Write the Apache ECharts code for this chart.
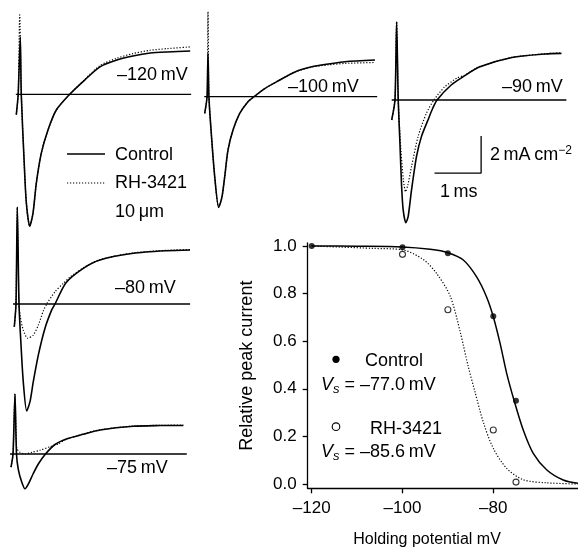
<!DOCTYPE html>
<html>
<head>
<meta charset="utf-8">
<script src="https://cdn.jsdelivr.net/npm/echarts@6/dist/echarts.min.js"></script>
<style>
html,body{margin:0;padding:0;background:#fff;}
#chart{width:578px;height:548px;}
</style>
</head>
<body>
<div id="chart"></div>
<script>
// current traces: [time ms, current mA cm-2]
var ctl120 = [[0,-1.1],[0.04,0],[0.085,3.11],[0.106,0],[0.166,-3.58],[0.213,-5.85],[0.285,-7.13],[0.355,-6.43],[0.426,-4.8],[0.532,-3.18],[0.674,-1.93],[0.851,-0.85],[1.136,0],[1.455,0.77],[1.78,1.48],[2.14,1.85],[2.48,2.07],[2.85,2.23],[3.21,2.29],[3.70,2.34]];
var rh120  = [[0,-1.1],[0.04,0],[0.072,4.29],[0.106,0],[0.166,-3.58],[0.213,-5.85],[0.285,-7.13],[0.355,-6.43],[0.426,-4.8],[0.532,-3.18],[0.674,-1.93],[0.851,-0.85],[1.136,0],[1.455,0.8],[1.78,1.55],[2.14,1.95],[2.48,2.2],[2.85,2.38],[3.21,2.47],[3.70,2.56]];

var ctl100 = [[0,-0.9],[0.05,0],[0.07,2.35],[0.09,0],[0.14,-1.98],[0.213,-4.32],[0.298,-5.98],[0.368,-5.41],[0.426,-4.32],[0.496,-2.88],[0.602,-1.8],[0.745,-0.9],[0.921,-0.27],[1.049,0],[1.277,0.44],[1.56,0.85],[1.92,1.34],[2.277,1.62],[2.63,1.77],[2.985,1.89],[3.623,1.98]];
var rh100  = [[0,-0.9],[0.05,0],[0.07,4.59],[0.09,0],[0.14,-1.98],[0.213,-4.32],[0.298,-5.98],[0.368,-5.41],[0.426,-4.32],[0.496,-2.88],[0.602,-1.8],[0.745,-0.9],[0.921,-0.27],[1.049,0],[1.277,0.44],[1.56,0.85],[1.92,1.34],[2.277,1.6],[2.63,1.72],[2.985,1.8],[3.623,1.85]];

var ctl90 = [[0,-1.08],[0.07,0],[0.106,4.23],[0.14,0],[0.177,-2.34],[0.213,-4.69],[0.247,-5.95],[0.304,-6.63],[0.353,-6.31],[0.426,-4.86],[0.532,-3.06],[0.638,-1.98],[0.779,-1.08],[0.879,-0.46],[0.974,0],[1.277,0.81],[1.56,1.3],[1.879,1.78],[2.58,2.3],[3.30,2.49],[3.645,2.52]];
var rh90  = [[0,-1.08],[0.07,0],[0.106,4.23],[0.14,0],[0.198,-2.7],[0.251,-4.32],[0.298,-4.96],[0.347,-4.59],[0.426,-3.6],[0.566,-1.98],[0.745,-0.72],[0.906,0],[1.134,0.7],[1.41,1.2],[1.56,1.33],[1.879,1.8],[2.58,2.3],[3.30,2.5],[3.645,2.54]];

var ctl80 = [[0,-1.23],[0.036,0],[0.064,5.24],[0.1,0],[0.143,-2.22],[0.191,-4.2],[0.264,-5.78],[0.334,-5.28],[0.404,-4.2],[0.511,-2.76],[0.653,-1.31],[0.796,-0.32],[0.866,0],[1.1,1.15],[1.468,1.93],[1.823,2.38],[2.532,2.74],[3.243,2.88],[3.738,2.92]];
var rh80  = [[0,-1.23],[0.036,0],[0.064,5.24],[0.1,0],[0.132,-0.76],[0.191,-1.41],[0.285,-1.85],[0.404,-1.68],[0.511,-1.14],[0.617,-0.38],[0.689,0],[0.866,0.66],[1.043,1.12],[1.185,1.45],[1.468,1.95],[1.823,2.4],[2.532,2.76],[3.243,2.9],[3.738,2.94]];

var ctl75 = [[0,-1.12],[0.043,0],[0.085,5.1],[0.117,0],[0.155,-1.3],[0.228,-2.38],[0.298,-2.96],[0.368,-2.56],[0.474,-1.66],[0.581,-0.85],[0.734,0],[0.936,0.81],[1.191,1.3],[1.538,1.68],[1.894,2.04],[2.602,2.36],[3.17,2.42],[3.666,2.43]];
var rh75  = [[0,-1.12],[0.043,0],[0.085,5.1],[0.121,0.5],[0.191,0.15],[0.298,0],[0.44,0.14],[0.617,0.32],[0.83,0.62],[1.006,0.86],[1.191,1.3],[1.383,1.52],[1.538,1.7],[1.894,2.06],[2.602,2.38],[3.17,2.44],[3.666,2.46]];

// zero-current line extent (ms) per trace
var zeroSpan = [[-0.01,3.72],[-0.01,3.67],[0,3.75],[-0.03,3.74],[-0.02,3.74]];
var traceLabels = ['\u2013120\u2009mV','\u2013100\u2009mV','\u201390\u2009mV','\u201380\u2009mV','\u201375\u2009mV'];

// scale bar
var scaleMs = 1, scaleMa = 2;

// steady-state inactivation
var holdV   = [-120,-100,-90,-80,-75];
var ctlPeak = [1.0,0.995,0.97,0.705,0.35];
var rhV     = [-100,-90,-80,-75];
var rhPeak  = [0.965,0.732,0.227,0.008];
var ctlFit = [[-120,1.0],[-110,0.999],[-100,0.996],[-93.9,0.986],[-90,0.972],[-86.6,0.941],[-83.7,0.871],[-81.5,0.787],[-80,0.703],[-78.5,0.591],[-77.05,0.465],[-75.4,0.35],[-73.4,0.227],[-71.2,0.129],[-68.2,0.059],[-64.6,0.017],[-61.3,0.003]];
var rhFit  = [[-120,1.0],[-106.4,0.99],[-100,0.984],[-95.4,0.943],[-92.5,0.885],[-89.5,0.79],[-87.3,0.64],[-85.6,0.5],[-84,0.385],[-82.2,0.26],[-80,0.15],[-77.05,0.066],[-73.4,0.018],[-68.2,0.005],[-61.3,0.0]];
var xTicks = [-120,-100,-80];
var yTicks = [0,0.2,0.4,0.6,0.8,1.0];

var FONT = "'Liberation Sans', Arial, sans-serif";
var PX_MS = 47, PX_MA = 18.5;

var traces = [
    {left:16.3, base:94.3, ctl:ctl120, rh:rh120, lx:117, ly:75},
    {left:204.7, base:96.7, ctl:ctl100, rh:rh100, lx:288, ly:87},
    {left:391.7, base:100, ctl:ctl90, rh:rh90, lx:502, ly:87},
    {left:14.3, base:304, ctl:ctl80, rh:rh80, lx:115, ly:288},
    {left:11, base:481, ctl:ctl75, rh:rh75, lx:107, ly:468}
];

var grid = [], xAxis = [], yAxis = [], series = [], graphic = [];

traces.forEach(function (p, i) {
    grid.push({left:p.left, top:p.base - 4*PX_MA, width:4*PX_MS, height:12*PX_MA});
    xAxis.push({gridIndex:i, type:'value', min:0, max:4, show:false});
    yAxis.push({gridIndex:i, type:'value', min:-8, max:4, show:false});
    series.push({
        type:'line', xAxisIndex:i, yAxisIndex:i, symbol:'none', silent:true, clip:false,
        data:[[zeroSpan[i][0],0],[zeroSpan[i][1],0]],
        lineStyle:{color:'#000', width:1.3}
    });
    series.push({
        type:'line', xAxisIndex:i, yAxisIndex:i, symbol:'none', silent:true, clip:false,
        smooth:0.25, data:p.rh,
        lineStyle:{color:'#000', width:1.2, type:[1.2,1.8]}
    });
    series.push({
        type:'line', xAxisIndex:i, yAxisIndex:i, symbol:'none', silent:true, clip:false,
        smooth:0.25, data:p.ctl,
        lineStyle:{color:'#000', width:1.6}
    });
    graphic.push({type:'text', style:{x:p.lx, y:p.ly, text:traceLabels[i], font:'18px ' + FONT,
        fill:'#000', textVerticalAlign:'middle'}});
});

// scale bar drawn on the -90 mV trace axes
var sbT = 0.92, sbI = -3.95;
series.push({
    type:'line', xAxisIndex:2, yAxisIndex:2, symbol:'none', silent:true, clip:false,
    data:[[sbT, sbI],[sbT + scaleMs, sbI],[sbT + scaleMs, sbI + scaleMa]],
    lineStyle:{color:'#000', width:1.3}
});

// inactivation plot
grid.push({left:307.7, top:243, right:0, bottom:548 - 488.3});
xAxis.push({
    gridIndex:5, type:'value', min:-120.88, max:-61.34,
    axisLine:{show:true, onZero:false, lineStyle:{color:'#000', width:1.3}},
    axisTick:{show:true, length:5, customValues:xTicks, lineStyle:{color:'#000', width:1.3}},
    axisLabel:{customValues:xTicks, margin:12, color:'#000', fontSize:17, fontFamily:FONT,
        formatter:function (v) { return String(v).replace('-', '\u2013'); }},
    splitLine:{show:false}
});
yAxis.push({
    gridIndex:5, type:'value', min:-0.018, max:1.0126,
    name:'Relative peak current', nameLocation:'middle', nameGap:52,
    nameTextStyle:{color:'#000', fontSize:18, fontFamily:FONT},
    axisLine:{show:true, onZero:false, lineStyle:{color:'#000', width:1.3}},
    axisTick:{show:true, length:5, customValues:yTicks, lineStyle:{color:'#000', width:1.3}},
    axisLabel:{customValues:yTicks, margin:11, color:'#000', fontSize:17, fontFamily:FONT,
        formatter:function (v) { return v.toFixed(1); }},
    splitLine:{show:false}
});
series.push({
    type:'line', xAxisIndex:5, yAxisIndex:5, symbol:'none', silent:true, smooth:0.3,
    data:rhFit, lineStyle:{color:'#000', width:1.2, type:[1.2,1.8]}
});
series.push({
    type:'line', xAxisIndex:5, yAxisIndex:5, symbol:'none', silent:true, smooth:0.3,
    data:ctlFit, lineStyle:{color:'#000', width:1.5}
});
series.push({
    type:'scatter', xAxisIndex:5, yAxisIndex:5, symbol:'circle', symbolSize:6, silent:true,
    data:holdV.map(function (v, i) { return [v, ctlPeak[i]]; }),
    itemStyle:{color:'#000'}
});
series.push({
    type:'scatter', xAxisIndex:5, yAxisIndex:5, symbol:'circle', symbolSize:6, silent:true,
    data:rhV.map(function (v, i) { return [v, rhPeak[i]]; }),
    itemStyle:{color:'#fff', borderColor:'#000', borderWidth:1.1}
});

var vsRich = {
    v:{fontSize:18, fontFamily:FONT, fontStyle:'italic', fill:'#000'},
    s:{fontSize:13, fontFamily:FONT, fontStyle:'italic', fill:'#000', padding:[9,0,0,0]},
    t:{fontSize:18, fontFamily:FONT, fill:'#000'}
};
var supRich = {
    t:{fontSize:18, fontFamily:FONT, fill:'#000'},
    p:{fontSize:12, fontFamily:FONT, fill:'#000', padding:[0,0,9,0]}
};

graphic = graphic.concat([
    // trace legend
    {type:'line', shape:{x1:67, y1:154, x2:105, y2:154}, style:{stroke:'#000', lineWidth:1.5}},
    {type:'line', shape:{x1:67, y1:183, x2:105, y2:183}, style:{stroke:'#000', lineWidth:1.2, lineDash:[1.2,1.8]}},
    {type:'text', style:{x:115, y:155, text:'Control', font:'18px ' + FONT, fill:'#000', textVerticalAlign:'middle'}},
    {type:'text', style:{x:115, y:183, text:'RH-3421', font:'18px ' + FONT, fill:'#000', textVerticalAlign:'middle'}},
    {type:'text', style:{x:115, y:212, text:'10\u2009\u03bcm', font:'18px ' + FONT, fill:'#000', textVerticalAlign:'middle'}},
    // scale bar labels
    {type:'text', style:{x:490, y:155, text:'{t|2\u2009mA\u2009cm}{p|\u22122}', rich:supRich, textVerticalAlign:'middle'}},
    {type:'text', style:{x:440, y:192, text:'1\u2009ms', font:'18px ' + FONT, fill:'#000', textVerticalAlign:'middle'}},
    // inactivation legend
    {type:'circle', shape:{cx:336, cy:359.3, r:3.6}, style:{fill:'#000'}},
    {type:'text', style:{x:365, y:361, text:'Control', font:'18px ' + FONT, fill:'#000', textVerticalAlign:'middle'}},
    {type:'text', style:{x:321, y:385, text:'{v|V}{s|s}{t| = \u201377.0\u2009mV}', rich:vsRich, textVerticalAlign:'middle'}},
    {type:'circle', shape:{cx:336, cy:426.7, r:3.8}, style:{fill:'#fff', stroke:'#000', lineWidth:1.1}},
    {type:'text', style:{x:370, y:429, text:'RH-3421', font:'18px ' + FONT, fill:'#000', textVerticalAlign:'middle'}},
    {type:'text', style:{x:321, y:452, text:'{v|V}{s|s}{t| = \u201385.6\u2009mV}', rich:vsRich, textVerticalAlign:'middle'}},
    {type:'text', style:{x:427, y:532, text:'Holding potential mV', font:'16px ' + FONT, fill:'#000',
        textAlign:'center', textVerticalAlign:'top'}}
]);

var myChart = echarts.init(document.getElementById('chart'));
myChart.setOption({
    animation:false,
    backgroundColor:'#fff',
    grid:grid,
    xAxis:xAxis,
    yAxis:yAxis,
    series:series,
    graphic:graphic
});
</script>
</body>
</html>
